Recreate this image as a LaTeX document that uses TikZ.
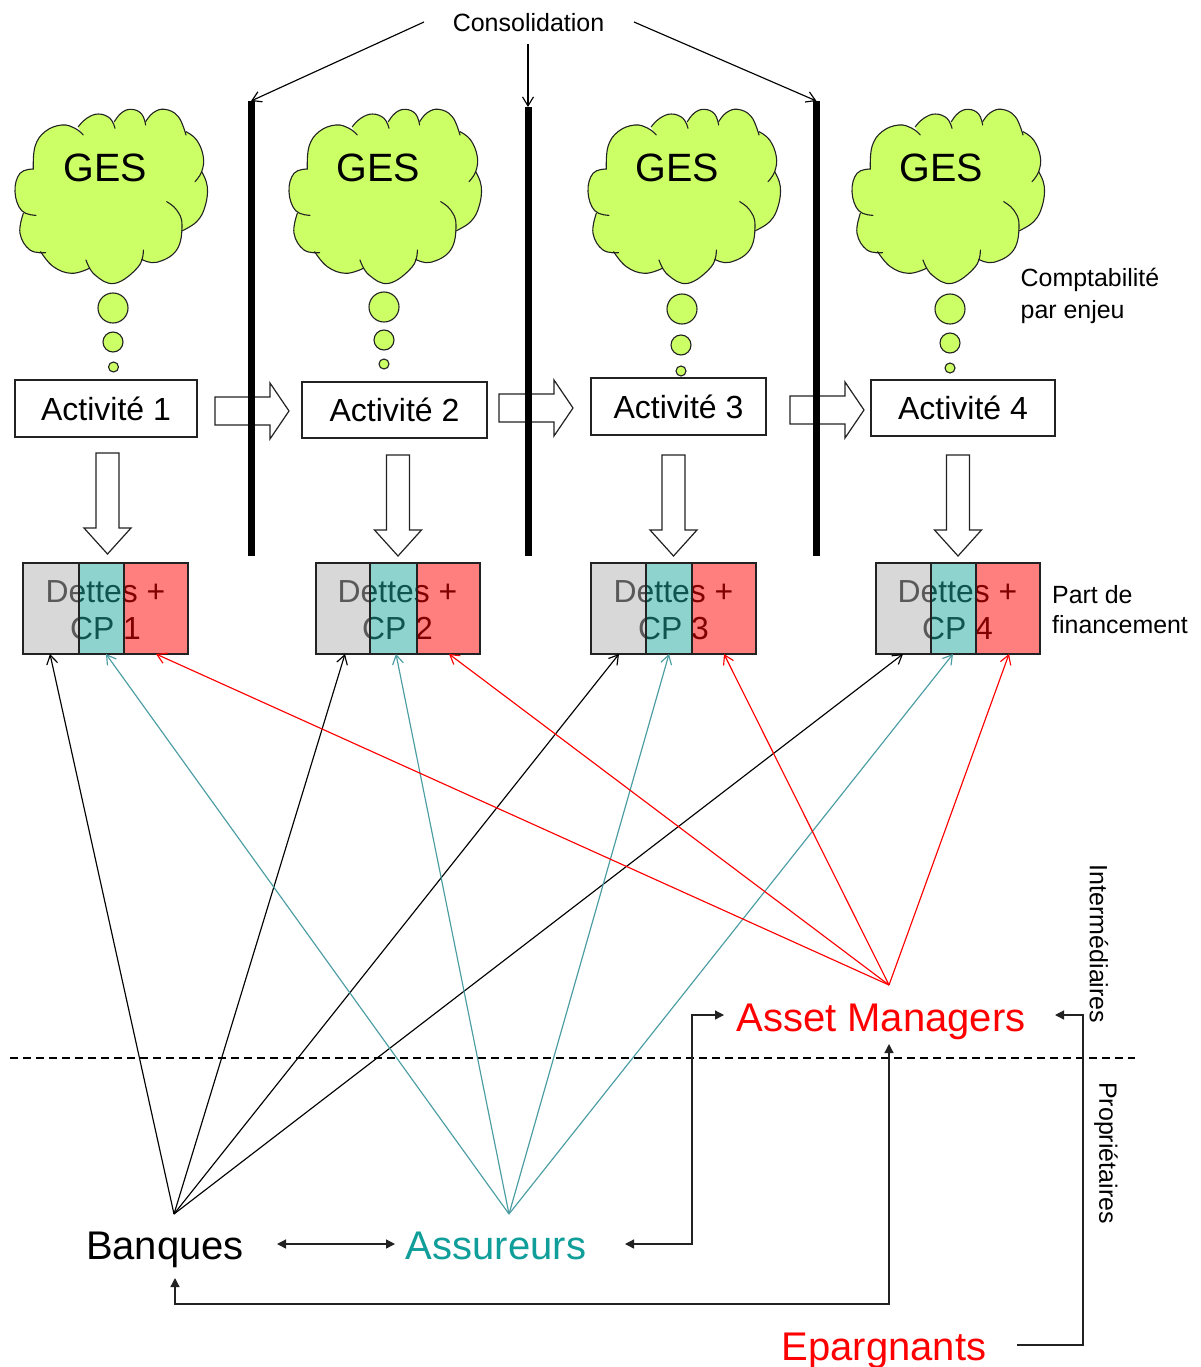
\documentclass[tikz,border=0pt]{standalone}
\usepackage{fontspec}
\setmainfont{Liberation Sans}
\usetikzlibrary{arrows.meta}
\newcommand{\fsz}[1]{\fontsize{#1bp}{#1bp}\selectfont}
\definecolor{cloudgreen}{HTML}{CCFF66}
\definecolor{tealline}{HTML}{4A9DA3}
\definecolor{teallabel}{HTML}{0F9E9A}
\definecolor{edgegray}{HTML}{222222}
\definecolor{tealband}{rgb}{.12,.66,.62}
\definecolor{grayband}{rgb}{.7,.7,.7}
\tikzset{
  cloudlobe/.style={draw=edgegray,line width=1.1bp,line cap=round},
  cloudfill/.style={fill=cloudgreen,draw=cloudgreen,line width=1bp},
  bubble/.style={draw=edgegray,line width=1.1bp,fill=cloudgreen},
  geslabel/.style={inner sep=0pt,font=\fsz{39.5}},
  actbox/.style={draw=edgegray,line width=1.2bp,fill=white,inner sep=0pt,font=\fsz{32}},
  blockarrow/.style={draw=edgegray,line width=1.2bp,fill=white,line join=miter},
  barline/.style={line width=7bp,black},
  fintext/.style={inner sep=0pt,align=center,font=\fontsize{32}{37bp}\selectfont,text=black},
  bandgray/.style={fill=grayband,fill opacity=.5},
  bandteal/.style={fill=tealband,fill opacity=.5},
  bandred/.style={fill=red,fill opacity=.5},
  bandedge/.style={draw=edgegray,line width=1.2bp},
  thinblack/.style={black,line width=1.15bp,-{Straight Barb[length=9bp,width=11bp]}},
  thinteal/.style={tealline,line width=1.15bp,-{Straight Barb[length=9bp,width=11bp]}},
  thinred/.style={red,line width=1.15bp,-{Straight Barb[length=9bp,width=11bp]}},
  flow/.style={edgegray,line width=1.3bp,-{Triangle[length=9bp,width=9bp]}},
  bothflow/.style={edgegray,line width=1.3bp,{Triangle[length=9bp,width=9bp]}-{Triangle[length=9bp,width=9bp]}},
  plainlabel/.style={inner sep=0pt,font=\fsz{25}},
  biglabel/.style={inner sep=0pt,font=\fsz{40}},
}
\newcommand{\lobeset}[1]{%
  \path[#1] plot[smooth,tension=.7] coordinates {(100,237)(105,170)(135,125)(185,105)(225,115)(250,135)};
  \path[#1] plot[smooth,tension=.7] coordinates {(235,110)(260,85)(295,72)(330,85)(345,115)};
  \path[#1] plot[smooth,tension=.7] coordinates {(343,95)(365,68)(395,58)(425,72)(437,105)};
  \path[#1] plot[smooth,tension=.7] coordinates {(437,95)(460,68)(495,58)(535,80)(558,135)};
  \path[#1] plot[smooth,tension=.7] coordinates {(558,125)(590,150)(610,200)(605,245)(585,275)};
  \path[#1] plot[smooth,tension=.7] coordinates {(605,245)(622,290)(615,350)(590,395)(545,423)};
  \path[#1] plot[smooth,tension=.7] coordinates {(500,335)(530,360)(546,405)(530,480)(470,517)(425,508)};
  \path[#1] plot[smooth,tension=.7] coordinates {(430,480)(415,530)(345,580)(285,555)(258,510)};
  \path[#1] plot[smooth,tension=.7] coordinates {(268,535)(215,550)(160,530)(122,485)};
  \path[#1] plot[smooth,tension=.7] coordinates {(137,488)(90,480)(60,430)(70,370)};
  \path[#1] plot[smooth,tension=.7] coordinates {(108,376)(65,362)(45,305)(60,250)(100,237)};
}
\newcommand{\gescloud}[1]{%
\begin{scope}[shift={(#1,90)},x=0.33333bp,y=-0.33333bp]
  \path[cloudfill] (100,237) -- (250,135) -- (236,111) -- (345,114) -- (343,96) -- (437,104) -- (437,96) -- (558,134) -- (558,126) -- (585,275) -- (605,246) -- (545,423) -- (425,508) -- (430,482) -- (258,510) -- (268,535) -- (122,485) -- (137,488) -- (70,370) -- (108,376) -- cycle;
  \lobeset{fill=cloudgreen}
  \lobeset{cloudlobe}
\end{scope}}
\newcommand{\finbox}[7]{% name, left, split1, split2, right, center x, number
  \node[fintext] (#1) at (#6,610) {Dettes +\\CP #7};
  \path[bandgray] (#2,563) rectangle (#3,654);
  \path[bandteal] (#3,563) rectangle (#4,654);
  \path[bandred] (#4,563) rectangle (#5,654);
  \draw[bandedge] (#2,563) rectangle (#5,654) (#3,563) -- (#3,654) (#4,563) -- (#4,654);
}
\newcommand{\blockh}[1]{\draw[blockarrow] (#1) ++(0,-14) -- ++(55,0) -- ++(0,-14) -- ++(19,28) -- ++(-19,28) -- ++(0,-14) -- ++(-55,0) -- cycle;}
\newcommand{\blockv}[1]{\draw[blockarrow] (#1) ++(-11.5,0) -- ++(0,75) -- ++(-12,0) -- ++(23.5,26) -- ++(23.5,-26) -- ++(-12,0) -- ++(0,-75) -- cycle;}
\begin{document}
\begin{tikzpicture}[x=1bp,y=-1bp]
\useasboundingbox (0,0) rectangle (1200,1367);
\fill[white] (0,0) rectangle (1200,1367);

% clouds
\gescloud{0}\gescloud{274}\gescloud{573}\gescloud{837}
\node[geslabel] (g1) at (105,167.5) {GES};
\node[geslabel] (g2) at (378.5,167.5) {GES};
\node[geslabel] (g3) at (677.5,167.5) {GES};
\node[geslabel] (g4) at (941.5,167.5) {GES};
\draw[bubble] (113,308) circle[radius=15] (113,342) circle[radius=10] (113.5,367) circle[radius=5];
\draw[bubble] (384,307) circle[radius=15] (384,340) circle[radius=10] (384,364) circle[radius=5];
\draw[bubble] (682,309) circle[radius=15] (681,345) circle[radius=10] (681,371) circle[radius=5];
\draw[bubble] (950,309) circle[radius=15] (950,343) circle[radius=10] (950,368) circle[radius=5];

% activities
\node[actbox,minimum width=182bp,minimum height=57bp] (a1) at (106,408.5) {Activité 1};
\node[actbox,minimum width=185bp,minimum height=56bp] (a2) at (394.5,410) {Activité 2};
\node[actbox,minimum width=175bp,minimum height=57bp] (a3) at (678.5,406.5) {Activité 3};
\node[actbox,minimum width=184bp,minimum height=56bp] (a4) at (963,408) {Activité 4};

% block arrows
\coordinate (h1) at (215,411);
\coordinate (h2) at (499,408);
\coordinate (h3) at (790,410);
\blockh{h1}\blockh{h2}\blockh{h3}
\coordinate (v1) at (107.5,453);
\coordinate (v2) at (398,455);
\coordinate (v3) at (673.5,455);
\coordinate (v4) at (958,455);
\blockv{v1}\blockv{v2}\blockv{v3}\blockv{v4}

% bars
\coordinate (b1t) at (251,101); \coordinate (b1b) at (251,556);
\coordinate (b2t) at (528,107); \coordinate (b2b) at (528,556);
\coordinate (b3t) at (816.5,101); \coordinate (b3b) at (816.5,556);
\draw[barline] (b1t) -- (b1b);
\draw[barline] (b2t) -- (b2b);
\draw[barline] (b3t) -- (b3b);

% consolidation
\node[plainlabel] (cons) at (528.5,23) {Consolidation};
\coordinate (cl) at (424,22); \coordinate (cm) at (528,44); \coordinate (cr) at (634,22);
\draw[thinblack] (cl) -- (b1t);
\draw[thinblack] (cm) -- (b2t);
\draw[thinblack] (cr) -- (b3t);

% financing boxes
\finbox{f1}{23}{79}{124}{188}{105.5}{1}
\finbox{f2}{316}{370}{417}{480}{397.5}{2}
\finbox{f3}{591}{646}{692}{756}{673.5}{3}
\finbox{f4}{876}{931}{976}{1040}{957.5}{4}

% side labels
\node[plainlabel,align=left,anchor=west,font=\fontsize{25}{32bp}\selectfont] (compta) at (1020.5,296) {Comptabilité\\par enjeu};
\node[plainlabel,align=left,anchor=west,font=\fontsize{25}{30bp}\selectfont] (part) at (1052,610) {Part de\\financement};
\node[plainlabel,rotate=-90] (interm) at (1099,944) {Intermédiaires};
\node[plainlabel,rotate=-90] (propr) at (1106,1153) {Propriétaires};

% dashed divider
\coordinate (dl) at (10,1058); \coordinate (dr) at (1135,1058);
\draw[black,line width=1.1bp,dash pattern=on 8bp off 5bp] (dl) -- (dr);

% actors
\node[biglabel,text=black] (banq) at (165,1250) {Banques};
\node[biglabel,text=teallabel] (assu) at (496,1246) {Assureurs};
\node[biglabel,text=red] (am) at (881,1022) {Asset Managers};
\node[biglabel,text=red] (epar) at (884,1351) {Epargnants};

% thin arrows
\coordinate (sb) at (174,1214); \coordinate (st) at (509,1214); \coordinate (sr) at (889,985);
\coordinate (t1k) at (50,654); \coordinate (t2k) at (345,654); \coordinate (t3k) at (619,654); \coordinate (t4k) at (903,654);
\coordinate (t1t) at (106,654); \coordinate (t2t) at (396,654); \coordinate (t3t) at (669,654); \coordinate (t4t) at (953,654);
\coordinate (t1r) at (156,654); \coordinate (t2r) at (449,654); \coordinate (t3r) at (724,654); \coordinate (t4r) at (1009,654);
\draw[thinblack] (sb) -- (t1k);
\draw[thinblack] (sb) -- (t2k);
\draw[thinblack] (sb) -- (t3k);
\draw[thinblack] (sb) -- (t4k);
\draw[thinteal] (st) -- (t1t);
\draw[thinteal] (st) -- (t2t);
\draw[thinteal] (st) -- (t3t);
\draw[thinteal] (st) -- (t4t);
\draw[thinred] (sr) -- (t1r);
\draw[thinred] (sr) -- (t2r);
\draw[thinred] (sr) -- (t3r);
\draw[thinred] (sr) -- (t4r);

% flows
\coordinate (ba) at (277,1244); \coordinate (ab) at (395,1244);
\draw[bothflow] (ba) -- (ab);
\coordinate (as1) at (625,1244); \coordinate (am1) at (724,1015);
\draw[bothflow] (as1) -- (692,1244) -- (692,1015) -- (am1);
\coordinate (bq1) at (175,1278); \coordinate (am2) at (889,1044);
\draw[bothflow] (bq1) -- (175,1304) -- (889,1304) -- (am2);
\coordinate (ep1) at (1017,1345); \coordinate (am3) at (1055,1015);
\draw[flow] (ep1) -- (1083,1345) -- (1083,1015) -- (am3);
\end{tikzpicture}
\end{document}
